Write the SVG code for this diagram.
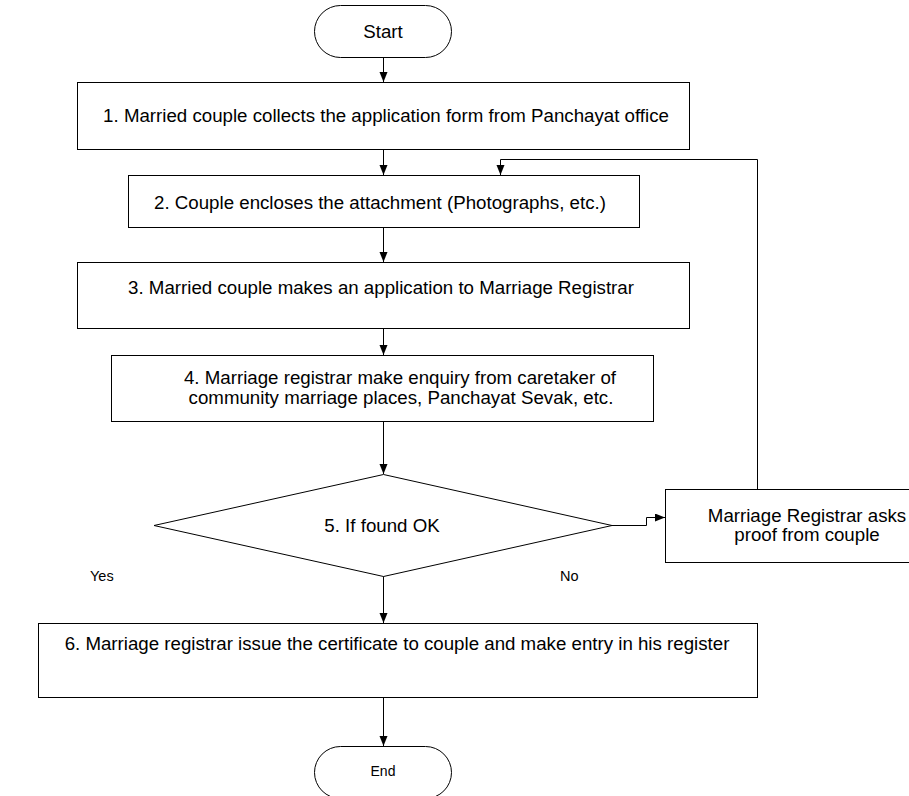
<svg xmlns="http://www.w3.org/2000/svg" width="909" height="796" viewBox="0 0 909 796">
<defs>
<marker id="arr" markerWidth="10" markerHeight="10" refX="10" refY="4" orient="auto" markerUnits="userSpaceOnUse">
<path d="M0,0 L10,4 L0,8 Z" fill="#000"/>
</marker>
<style>
.shape{fill:#fff;stroke:#000;stroke-width:1}
.t{font-family:"Liberation Sans",Arial,sans-serif;font-size:18.7px;fill:#000;text-anchor:middle}
.s{font-family:"Liberation Sans",Arial,sans-serif;font-size:14.5px;fill:#000}
.c{fill:none;stroke:#000;stroke-width:1}
</style>
</defs>
<rect width="909" height="796" fill="#fff"/>
<g id="connectors">
<path class="c" d="M383.5,57 V82" marker-end="url(#arr)"/>
<path class="c" d="M383.5,150 V175" marker-end="url(#arr)"/>
<path class="c" d="M383.5,227 V262" marker-end="url(#arr)"/>
<path class="c" d="M383.5,329 V355" marker-end="url(#arr)"/>
<path class="c" d="M383.5,422 V474" marker-end="url(#arr)"/>
<path class="c" d="M612,525.5 H646.5 V517.5 H665" marker-end="url(#arr)"/>
<path class="c" d="M757.5,489 V159.5 H500.5 V175" marker-end="url(#arr)"/>
<path class="c" d="M383.5,576 V623" marker-end="url(#arr)"/>
<path class="c" d="M383.5,697 V746" marker-end="url(#arr)"/>
</g>
<g id="start">
<rect class="shape" x="314.5" y="5.5" width="137" height="52" rx="26"/>
<text class="t" x="383" y="37.5">Start</text>
</g>
<g id="step1">
<rect class="shape" x="77.5" y="82.5" width="612" height="67"/>
<text class="t" x="386" y="122">1. Married couple collects the application form from Panchayat office</text>
</g>
<g id="step2">
<rect class="shape" x="128.5" y="175.5" width="511" height="52"/>
<text class="t" x="380" y="209">2. Couple encloses the attachment (Photographs, etc.)</text>
</g>
<g id="step3">
<rect class="shape" x="77.5" y="262.5" width="612" height="66"/>
<text class="t" x="381" y="294">3. Married couple makes an application to Marriage Registrar</text>
</g>
<g id="step4">
<rect class="shape" x="111.5" y="355.5" width="542" height="66"/>
<text class="t" x="400" y="384">4. Marriage registrar make enquiry from caretaker of</text>
<text class="t" x="401" y="403.5">community marriage places, Panchayat Sevak, etc.</text>
</g>
<g id="decision">
<polygon class="shape" points="383.5,474.5 612,525.5 383.5,576.5 154,525.5"/>
<text class="t" x="382" y="531.5">5. If found OK</text>
</g>
<g id="labels">
<text class="s" x="90" y="581">Yes</text>
<text class="s" x="560" y="581">No</text>
</g>
<g id="proof">
<rect class="shape" x="665.5" y="489.5" width="260" height="73"/>
<text class="t" x="807" y="521.5">Marriage Registrar asks</text>
<text class="t" x="807" y="541">proof from couple</text>
</g>
<g id="step6">
<rect class="shape" x="38.5" y="623.5" width="719" height="74"/>
<text class="t" x="397" y="650">6. Marriage registrar issue the certificate to couple and  make entry in his register</text>
</g>
<g id="end">
<rect class="shape" x="314.5" y="746.5" width="137" height="52" rx="26"/>
<text x="383" y="776" style="font-family:'Liberation Sans',Arial,sans-serif;font-size:14px;text-anchor:middle">End</text>
</g>
</svg>
